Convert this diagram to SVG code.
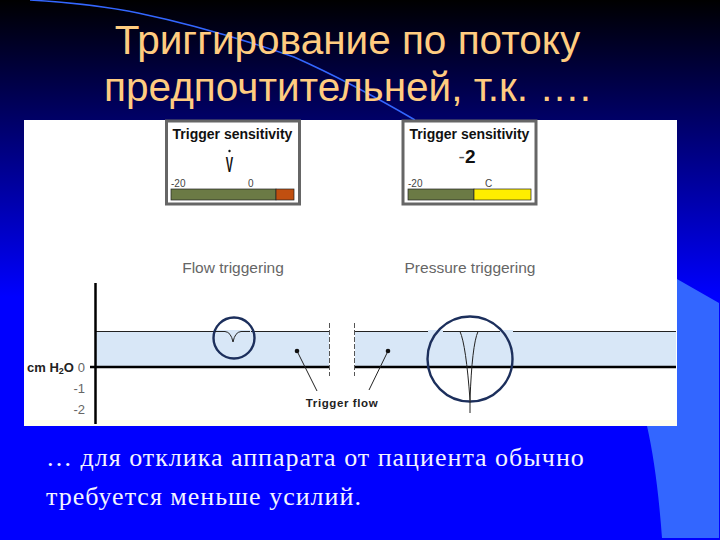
<svg xmlns="http://www.w3.org/2000/svg" width="720" height="540" viewBox="0 0 720 540">
<style>
.title{font:40.500px "Liberation Sans",sans-serif;fill:#ffcc80;text-anchor:middle}
.body{font:26px "Liberation Serif",serif;fill:#f4f4ff;letter-spacing:1px}
.gt{font:bold 14px "Liberation Sans",sans-serif;fill:#111;text-anchor:middle}
.sc{font:10px "Liberation Sans",sans-serif;fill:#444}
.lab{font:15.500px "Liberation Sans",sans-serif;fill:#666;text-anchor:middle}
.ax{font:13px "Liberation Sans",sans-serif;fill:#666;text-anchor:end}
.frame{fill:#fff;stroke:#666;stroke-width:3}
.bar{stroke:#222;stroke-width:.7}
.ring{fill:none;stroke:#1c2f5c;stroke-width:2.4}
.thin{fill:none;stroke:#222;stroke-width:1}
.base{stroke:#000;stroke-width:2.4}
.top{stroke:#222;stroke-width:1}
.dash{stroke:#555;stroke-width:1;stroke-dasharray:5 2}
</style>
<defs><linearGradient id="bg" x1="0" y1="0" x2="0" y2="1"><stop offset="0" stop-color="#000"/><stop offset="0.55" stop-color="#00f"/><stop offset="1" stop-color="#00f"/></linearGradient></defs>
<rect width="720" height="540" fill="url(#bg)"/>
<g id="decor">
<path d="M30 0Q95 4 138 13Q210 28 294 57Q350 82 415 120" fill="none" stroke="#3366ff" stroke-width="1.5"/>
<path d="M677 279L719 303V538H662Q657 470 647 426H677Z" fill="#3366ff"/>
</g>
<g id="title">
<text class="title" x="347.500" y="54">Триггирование по потоку</text>
<text class="title" x="347.500" y="101">предпочтительней, т.к. ….</text>
</g>
<rect id="panel" x="24" y="120" width="653" height="306" fill="#fff"/>
<rect x="24" y="420" width="653" height="6" fill="#fffdf0"/>
<g id="gauge-flow">
<rect class="frame" x="166.500" y="121" width="133" height="83"/>
<text class="gt" x="232.500" y="139">Trigger sensitivity</text>
<text transform="translate(229.500 172) scale(.5 1)" style="font:bold 22px 'Liberation Sans',sans-serif;fill:#111" text-anchor="middle">V</text>
<circle cx="229.500" cy="151" r="1.200" fill="#111"/>
<text class="sc" x="171" y="187">-20</text><text class="sc" x="248" y="187">0</text>
<rect class="bar" x="171" y="189" width="105" height="11" fill="#6b7a45"/>
<rect class="bar" x="276" y="189" width="18" height="11" fill="#c04f10"/>
</g>
<g id="gauge-pressure">
<rect class="frame" x="403" y="121" width="133" height="83"/>
<text class="gt" x="469.500" y="139">Trigger sensitivity</text>
<text x="467" y="163" style="font:bold 19px 'Liberation Sans',sans-serif;fill:#111" text-anchor="middle"><tspan font-weight="normal" fill="#555">-</tspan>2</text>
<text class="sc" x="408" y="187">-20</text><text class="sc" x="485" y="187">C</text>
<rect class="bar" x="408" y="189" width="66" height="11" fill="#6b7a45"/>
<rect class="bar" x="474" y="189" width="57" height="11" fill="#ffee00"/>
</g>
<text class="lab" x="233" y="273">Flow triggering</text>
<text class="lab" x="470" y="273">Pressure triggering</text>
<g id="plot">
<rect x="96" y="331" width="233" height="36" fill="#d8e7f7"/>
<rect x="355" y="331" width="321" height="36" fill="#d8e7f7"/>
<path class="top" d="M96 331.500H329M355 331.500H676"/>
<path class="base" d="M90 367H329M355 367H676"/>
<path d="M95.500 283V424" stroke="#000" stroke-width="2.500"/>
<path class="dash" d="M329.500 323V376M354.500 323V376"/>
<text x="27" y="372" style="font:bold 13px 'Liberation Sans',sans-serif;fill:#222">cm H<tspan font-size="9" dy="2">2</tspan><tspan dy="-2">O</tspan></text>
<text class="ax" x="85" y="372">0</text><text class="ax" x="85" y="393">-1</text><text class="ax" x="85" y="414">-2</text>
</g>
<g id="connectors">
<path class="thin" d="M297 351L317 391M388 351L369 390"/>
<circle cx="297" cy="351" r="2.300" fill="#111"/><circle cx="388" cy="351" r="2.300" fill="#111"/>
</g>
<g id="flow-circle">
<rect x="215" y="330" width="36" height="3" fill="#d8e7f7"/>
<circle class="ring" cx="234" cy="338" r="20.500"/>
<path class="thin" d="M215 331.500H225Q231 332 233 342Q235 332 241 331.500H250"/>
</g>
<g id="pressure-circle">
<rect x="428" y="330" width="15" height="3" fill="#d8e7f7"/><rect x="500" y="330" width="13" height="3" fill="#d8e7f7"/>
<circle class="ring" cx="470" cy="359" r="42.500"/>
<path class="thin" d="M443 331.500H460Q466 345 470 400V413M470 400Q472 345 478 331.500H500"/>
</g>
<text x="342" y="407" text-anchor="middle" style="font:bold 11.500px 'Liberation Sans',sans-serif;fill:#222;letter-spacing:.6px">Trigger flow</text>
<g id="body">
<text class="body" x="46" y="466">… для отклика аппарата от пациента обычно</text>
<text class="body" x="46" y="505">требуется меньше усилий.</text>
</g>
</svg>
